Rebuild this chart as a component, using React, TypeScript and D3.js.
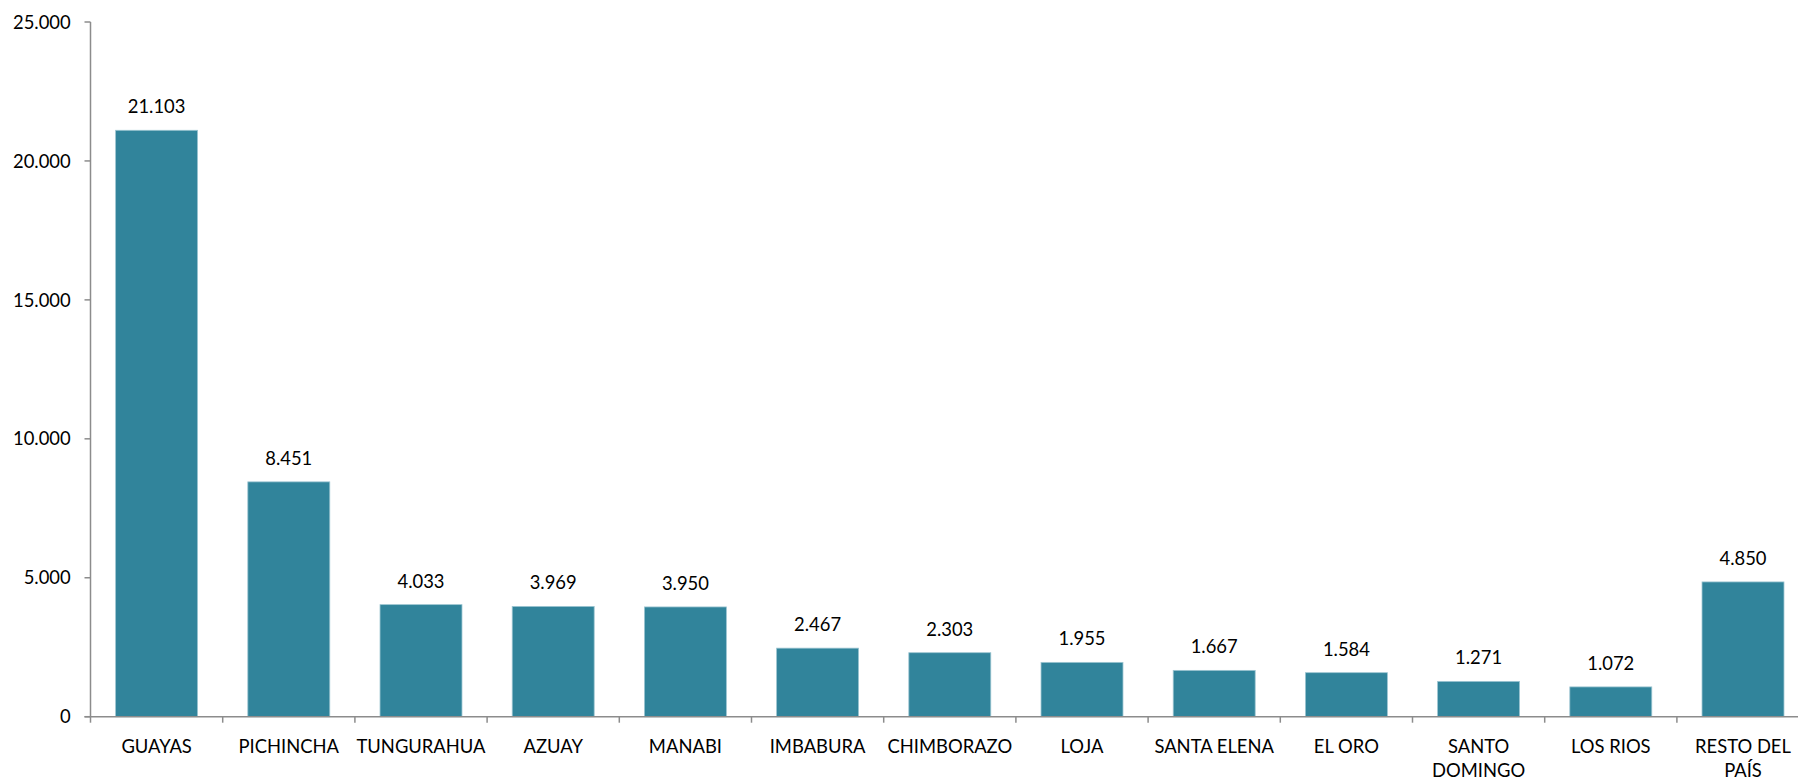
import React from "react";
import * as d3 from "d3";

const categories: string[] = [
  "GUAYAS", "PICHINCHA", "TUNGURAHUA", "AZUAY", "MANABI", "IMBABURA",
  "CHIMBORAZO", "LOJA", "SANTA ELENA", "EL ORO", "SANTO DOMINGO", "LOS RIOS", "RESTO DEL PAÍS",
];
const values: number[] = [21103, 8451, 4033, 3969, 3950, 2467, 2303, 1955, 1667, 1584, 1271, 1072, 4850];
const yTicks: number[] = [0, 5000, 10000, 15000, 20000, 25000];

const W = 1798;
const H = 779;
const left = 90.5;
const bandW = 132.2;
const top = 22;
const bottom = 716.7;
const FONT = "Lato, 'Open Sans', sans-serif";
const FS = 18.4;
const BAR = "#31849b";
const AXIS = "#8c8c8c";

const fmt = (v: number) => d3.format(",")(v).replace(/,/g, ".");

function wrap(label: string): string[] {
  if (label.length <= 12) return [label];
  const i = label.lastIndexOf(" ");
  return [label.slice(0, i), label.slice(i + 1)];
}

export default function App() {
  const x = d3
    .scaleBand<string>()
    .domain(categories)
    .range([left, left + bandW * categories.length])
    .paddingInner(0.38)
    .paddingOuter(0.19);
  const y = d3.scaleLinear().domain([0, 25000]).range([bottom, top]);
  const xEnd = left + bandW * categories.length;

  return (
    <svg
      width={W}
      height={H}
      style={{ position: "absolute", left: 0, top: 0, background: "#fff" }}
      fontFamily={FONT}
    >
      {/* bars */}
      {categories.map((c, i) => (
        <rect
          key={c}
          x={x(c)!}
          y={y(values[i])}
          width={x.bandwidth()}
          height={y(0) - y(values[i])}
          fill={BAR}
          stroke="#9cc5d1"
          strokeWidth={0.8}
        />
      ))}
      {/* value labels */}
      {categories.map((c, i) => (
        <text
          key={"v" + c}
          x={x(c)! + x.bandwidth() / 2}
          y={y(values[i]) - 17}
          textAnchor="middle"
          fontSize={FS}
          fill="#000"
        >
          {fmt(values[i])}
        </text>
      ))}
      {/* y axis */}
      <line x1={left} x2={left} y1={top} y2={bottom} stroke={AXIS} strokeWidth={1.5} />
      {yTicks.map((t) => (
        <g key={"t" + t}>
          <line x1={left - 6} x2={left} y1={y(t)} y2={y(t)} stroke={AXIS} strokeWidth={1.5} />
          <text
            x={70.7}
            y={y(t)}
            dy="0.36em"
            textAnchor="end"
            fontSize={FS}
            fill="#000"
          >
            {fmt(t)}
          </text>
        </g>
      ))}
      {/* x axis */}
      <line x1={left - 6} x2={xEnd} y1={bottom} y2={bottom} stroke={AXIS} strokeWidth={1.5} />
      {d3.range(categories.length + 1).map((k) => (
        <line
          key={"xt" + k}
          x1={left + k * bandW}
          x2={left + k * bandW}
          y1={bottom}
          y2={bottom + 6}
          stroke={AXIS}
          strokeWidth={1.5}
        />
      ))}
      {categories.map((c) => {
        const lines = wrap(c);
        const cx = x(c)! + x.bandwidth() / 2;
        return (
          <text key={"l" + c} textAnchor="middle" fontSize={FS} fill="#000">
            {lines.map((ln, j) => (
              <tspan key={j} x={cx} y={752.5 + j * 24.7}>
                {ln}
              </tspan>
            ))}
          </text>
        );
      })}
    </svg>
  );
}
